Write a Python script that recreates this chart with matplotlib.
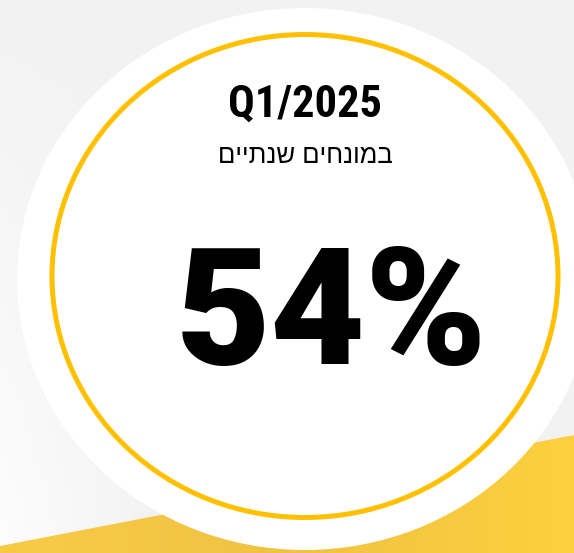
import numpy as np
import matplotlib
matplotlib.use("Agg")
import matplotlib.pyplot as plt
from matplotlib import font_manager as fm
from matplotlib.patches import Ellipse, Polygon
from matplotlib.colors import LinearSegmentedColormap

# data
period_label = "Q1/2025"
basis_label = "במונחים שנתיים"   # annual terms
value_pct = 54

W, H = 574, 553
YELLOW = '#FFC000'


def pick_font(families, min_weight=400, want_narrow=False):
    """Heaviest installed face among the given families (optionally narrow)."""
    best = None
    for fam in families:
        for f in fm.fontManager.ttflist:
            if f.name != fam:
                continue
            w = f.weight if isinstance(f.weight, int) else 400
            if w < min_weight or f.style != 'normal':
                continue
            narrow = (f.stretch not in ('normal', 500) or 'Condensed' in f.fname
                      or 'Narrow' in f.fname)
            if want_narrow != narrow:
                continue
            if best is None or w > best[0]:
                best = (w, f.fname)
        if best:
            break
    return fm.FontProperties(fname=best[1]) if best else None


big_narrow = pick_font(['Roboto Condensed', 'Noto Sans', 'Open Sans'], 800, want_narrow=True)
big_font = (big_narrow
            or pick_font(['Roboto', 'Lato', 'Inter', 'Noto Sans', 'Open Sans'], 800)
            or fm.FontProperties(family='DejaVu Sans', weight='bold'))
head_font = (pick_font(['Roboto Condensed', 'Liberation Sans Narrow', 'Noto Sans'], 700,
                       want_narrow=True)
             or fm.FontProperties(family='Roboto', weight='bold'))
heb_font = fm.FontProperties(family=['Liberation Sans', 'DejaVu Sans'])

fig = plt.figure(figsize=(W / 100, H / 100), dpi=100)
ax = fig.add_axes([0, 0, 1, 1])
ax.set_xlim(0, W)
ax.set_ylim(H, 0)
ax.axis('off')

# light gray background, fading to white toward the lower left
xx, yy = np.meshgrid(np.linspace(0, 1, 120), np.linspace(0, 1, 120))
bg = np.clip(1.0 - np.clip(1 - xx * 3.5, 0, 1) * yy, 0, 1)
bg_cmap = LinearSegmentedColormap.from_list('bg', ['#FDFDFD', '#F2F2F2'])
ax.imshow(bg, cmap=bg_cmap, extent=[0, W, H, 0], aspect='auto', zorder=0)

# yellow wedge at the bottom
wedge = Polygon([(0, 546), (W, 435), (W, H), (0, H)], closed=True,
                facecolor='none', edgecolor='none', zorder=1)
ax.add_patch(wedge)
ycmap = LinearSegmentedColormap.from_list('yl', ['#F8CB47', '#F0C242', '#FDD03E'])
yimg = ax.imshow(np.tile(np.linspace(0, 1, 200), (5, 1)), cmap=ycmap,
                 extent=[0, W, H, 420], aspect='auto', zorder=1)
yimg.set_clip_path(wedge)

# white disc and yellow ring
ax.add_patch(Ellipse((305, 279), 576, 542, facecolor='white',
                     edgecolor='none', zorder=2))
ax.add_patch(Ellipse((305, 276), 506, 483, facecolor='none',
                     edgecolor=YELLOW, linewidth=3.6, zorder=3))

ax.text(305, 117, period_label, ha='center', va='baseline', fontsize=32,
        fontproperties=head_font, color='black', zorder=4)
# matplotlib has no bidi support, so reverse the Hebrew for display
ax.text(305, 163, basis_label[::-1], ha='center', va='baseline', fontsize=18.5,
        fontproperties=heb_font, color='black', zorder=4)
big_size = 125 if big_narrow else 118
ax.text(331, 364, f"{value_pct}%", ha='center', va='baseline', fontsize=big_size,
        fontproperties=big_font, color='black', zorder=4)

fig.savefig('out.png', dpi=100)
